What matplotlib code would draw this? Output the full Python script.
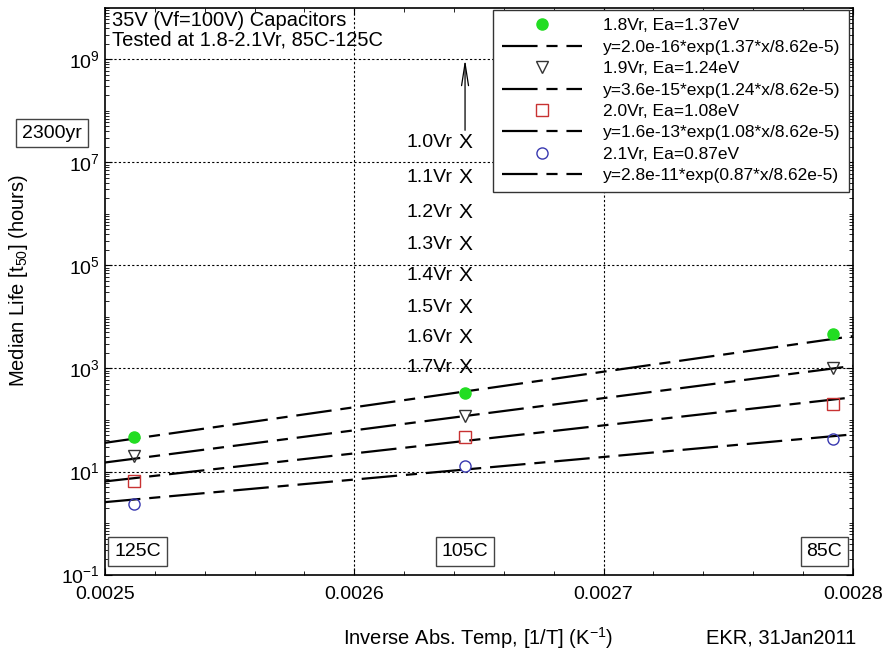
import numpy as np
import matplotlib
matplotlib.use("Agg")
import matplotlib.pyplot as plt
from matplotlib.ticker import FixedLocator, LogLocator, FormatStrFormatter, NullFormatter

plt.rcParams['font.family'] = ['Liberation Sans', 'DejaVu Sans']
plt.rcParams['mathtext.fontset'] = 'custom'
plt.rcParams['mathtext.rm'] = 'Liberation Sans'

# test temperatures (C) -> inverse absolute temperature
temps_c = [125, 105, 85]
inv_t = [1.0 / (t + 273.15) for t in temps_c]

# median life (hours) per stress voltage
volts = ['1.8Vr', '1.9Vr', '2.0Vr', '2.1Vr']
ea = [1.37, 1.24, 1.08, 0.87]
pre = [2.0e-16, 3.6e-15, 1.6e-13, 2.8e-11]
life_18 = [47, 340, 4600]
life_19 = [19.6, 121, 1040]
life_20 = [6.4, 47, 208]
life_21 = [2.35, 12.9, 43]
lives = [life_18, life_19, life_20, life_21]

# extrapolated life at 105C for lower voltages
extrap_v = ['1.0Vr', '1.1Vr', '1.2Vr', '1.3Vr', '1.4Vr', '1.5Vr', '1.6Vr', '1.7Vr']
extrap_life = [2.45e7, 5.1e6, 1.07e6, 2.6e5, 6.5e4, 1.5e4, 4.0e3, 1.05e3]

k_b = 8.62e-5

markers = ['o', 'v', 's', 'o']
faces = ['#22dd22', 'none', 'none', 'none']
edges = ['#22dd22', '#333333', '#c83232', '#3838b0']

fig = plt.figure(figsize=(8.85, 6.54), dpi=100)
ax = fig.add_axes([0.1186, 0.1215, 0.845, 0.8665])

xline = np.array([0.0025, 0.0028])
for i in range(4):
    ax.plot(inv_t, lives[i], linestyle='none', marker=markers[i], ms=8,
            mfc=faces[i], mec=edges[i], mew=1.0,
            label=f'{volts[i]}, Ea={ea[i]:.2f}eV', zorder=4)
    ax.plot(xline, pre[i] * np.exp(ea[i] * xline / k_b), color='black', lw=1.6,
            dashes=(16, 4, 5, 4),
            label=f'y={pre[i]:.1e}*exp({ea[i]:.2f}*x/8.62e-5)', zorder=3)

ax.set_yscale('log')
ax.set_xlim(0.0025, 0.0028)
ax.set_ylim(0.1, 1e10)

ax.xaxis.set_major_locator(FixedLocator([0.0025, 0.0026, 0.0027, 0.0028]))
ax.xaxis.set_minor_locator(FixedLocator(np.arange(0.0025, 0.00281, 0.00002)))
ax.xaxis.set_major_formatter(FormatStrFormatter('%.4f'))
ax.yaxis.set_major_locator(FixedLocator([10.0 ** e for e in range(-1, 10, 2)]))
ax.yaxis.set_minor_locator(LogLocator(base=10, subs=np.arange(1, 10), numticks=100))
ax.yaxis.set_minor_formatter(NullFormatter())

ax.tick_params(which='both', direction='in', top=True, right=True, labelsize=14)
ax.tick_params(which='major', length=5)
ax.tick_params(which='minor', length=3)
ax.tick_params(axis='x', pad=8)

for e in range(1, 10, 2):
    ax.axhline(10.0 ** e, color='black', lw=0.8, ls=(0, (2, 2)), zorder=1)
for xv in [0.0026, 0.0027]:
    ax.axvline(xv, color='black', lw=0.8, ls=(0, (2, 2)), zorder=1)

for s in ax.spines.values():
    s.set_linewidth(1.2)

ax.set_xlabel('Inverse Abs. Temp, [1/T] (K$^{-1}$)', fontsize=14.5)
ax.xaxis.set_label_coords(0.499, -0.112)
ax.xaxis.label.set_va('center')
ax.set_ylabel('Median Life [t$_{50}$] (hours)', fontsize=14.5)
ax.yaxis.set_label_coords(-0.116, 0.518)
ax.yaxis.label.set_va('center')

fig.text(0.968, 1 - 638 / 654, 'EKR, 31Jan2011', ha='right', va='center', fontsize=14.5)

ax.text(0.009, 0.995, '35V (Vf=100V) Capacitors\nTested at 1.8-2.1Vr, 85C-125C',
        transform=ax.transAxes, ha='left', va='top', fontsize=14.5, linespacing=1.05)

# extrapolated points at 105C
x105 = inv_t[1]
for lab, yv in zip(extrap_v, extrap_life):
    ax.text(x105, yv, 'X', ha='center', va='center', fontsize=15, zorder=5)
    ax.annotate(lab, (x105, yv), xytext=(-9, 0), textcoords='offset points',
                ha='right', va='center', fontsize=14, zorder=5)
ax.annotate('', xy=(x105, 1e9), xytext=(x105, 4.2e7),
            arrowprops=dict(arrowstyle='->,head_length=1.6,head_width=0.25',
                            lw=0.9, color='black', shrinkA=0, shrinkB=0))

box = dict(boxstyle='square,pad=0.3', fc='white', ec='#444444', lw=1.0)
ax.text(-0.071, 0.779, '2300yr', transform=ax.transAxes, ha='center', va='center',
        fontsize=14, bbox=box, clip_on=False)
temp_y = 0.28
ax.text(0.002513, temp_y, '125C', ha='center', va='center', fontsize=14, bbox=box)
ax.text(x105, temp_y, '105C', ha='center', va='center', fontsize=14, bbox=box)
ax.text(0.0027886, temp_y, '85C', ha='center', va='center', fontsize=14, bbox=box)

leg = ax.legend(loc='upper right', bbox_to_anchor=(0.995, 0.997), fontsize=12.5,
                frameon=True, fancybox=False, edgecolor='#333333', framealpha=1,
                handlelength=4.6, labelspacing=0.36, borderpad=0.5,
                handletextpad=1.2, borderaxespad=0)
leg.get_frame().set_linewidth(1.0)

fig.savefig('out.png', dpi=100)
